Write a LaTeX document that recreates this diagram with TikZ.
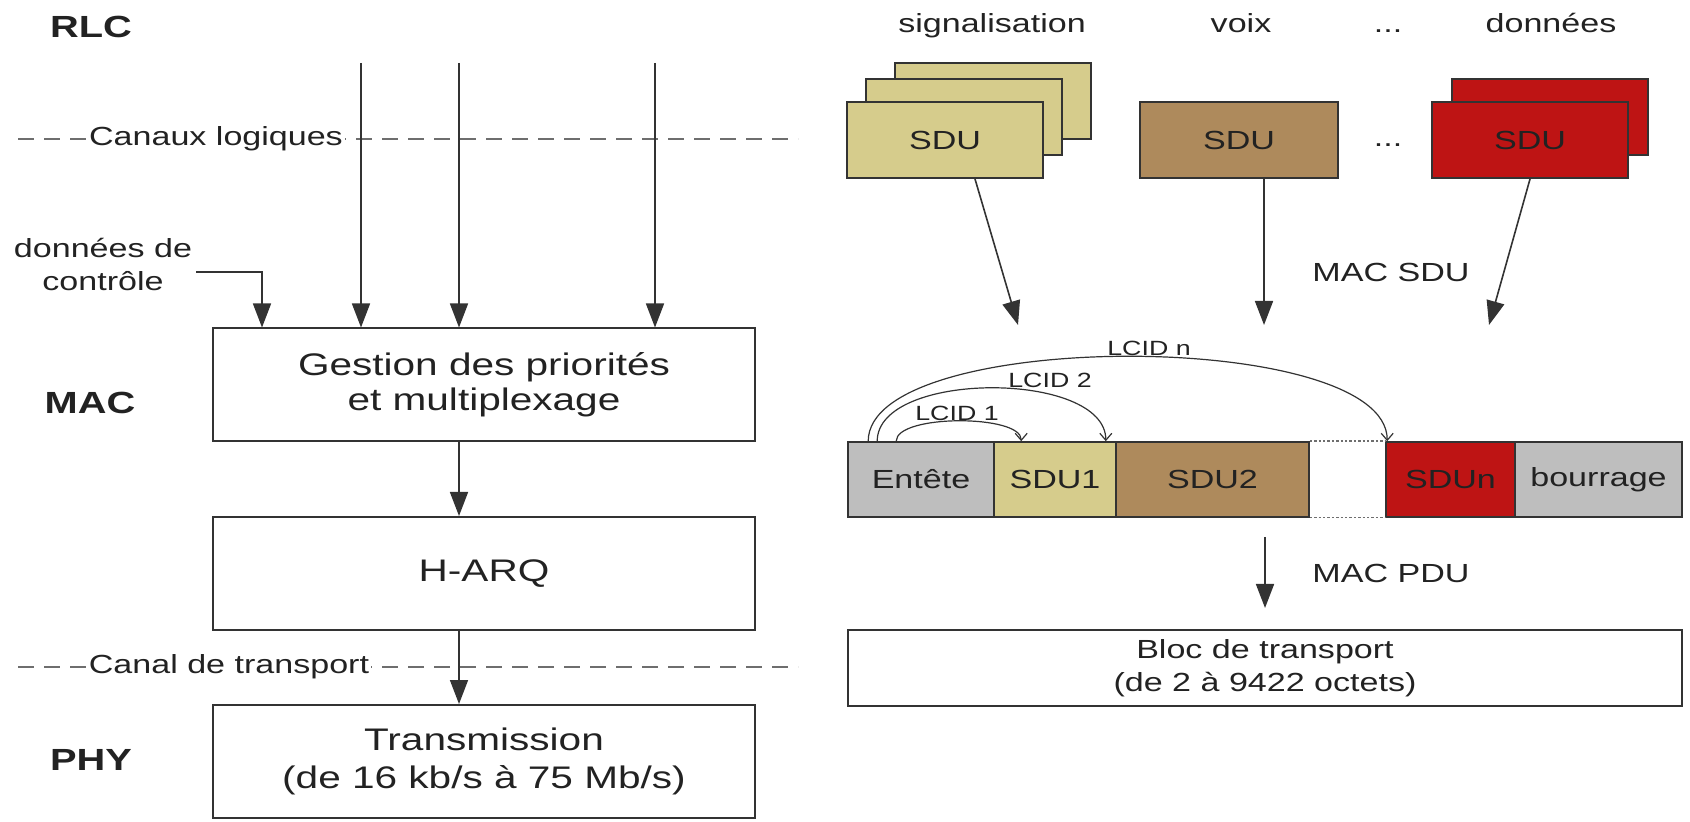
\documentclass[tikz,border=0pt]{standalone}
\usepackage{fontspec}
\setmainfont{Liberation Sans}[FakeStretch=1.3]
\usetikzlibrary{arrows.meta,calc}
\definecolor{linec}{HTML}{333333}
\definecolor{txtc}{HTML}{222222}
\definecolor{dashc}{HTML}{6E6E6E}
\definecolor{sduyel}{HTML}{D6CC8C}
\definecolor{sdubrn}{HTML}{AE8A5C}
\definecolor{sdured}{HTML}{BE1414}
\definecolor{sdugry}{HTML}{BEBEBE}
\newcommand{\myL}{\fontsize{15.6}{17.5}\selectfont}
\newcommand{\myLT}{\fontsize{15.6}{19}\selectfont}
\newcommand{\myM}{\fontsize{13.1}{16.5}\selectfont}
\newcommand{\myB}{\fontsize{15.3}{17}\selectfont\bfseries}
\newcommand{\myS}{\fontsize{10.3}{12}\selectfont}
\begin{document}
\begin{tikzpicture}[x=0.5pt,y=-0.5pt,
 every node/.style={text=txtc},
 box/.style={draw=linec, line width=1pt, minimum width=271pt, minimum height=56.5pt, align=center, font=\myL, inner sep=0pt},
 sdu/.style={draw=linec, line width=1pt, minimum width=98pt, minimum height=38pt, inner sep=0pt, font=\myM},
 seg/.style={draw=linec, line width=0.8pt, minimum height=37.5pt, inner sep=0pt, font=\myM},
 arr/.style={draw=linec, line width=0.8pt, -{Triangle[length=12pt,width=9pt]}},
 lcid/.style={draw=linec, line width=0.6pt, -{Straight Barb[length=3.5pt,width=6pt]}},
 layer/.style={font=\myB},
 lbl/.style={font=\myM},
 chan/.style={font=\myM, fill=white, inner sep=1pt},
 dashline/.style={draw=dashc, line width=0.8pt, dash pattern=on 8pt off 5pt},
 dotline/.style={draw=dashc, line width=0.7pt, dash pattern=on 1.2pt off 1pt},
]
\useasboundingbox (0,0) rectangle (1690,822);

% layer labels
\node[layer] (rlc) at (91,27) {RLC};
\node[layer] (mac) at (90,403) {MAC};
\node[layer] (phy) at (91,760) {PHY};

% dashed channel lines
\coordinate (d1a) at (18,139); \coordinate (d1b) at (798,139);
\draw[dashline] (d1a) -- (d1b);
\node[chan] (canlog) at (216,139) {Canaux logiques};
\coordinate (d2a) at (18,667); \coordinate (d2b) at (798,667);
\draw[dashline] (d2a) -- (d2b);
\node[chan] (cantr) at (229,667) {Canal de transport};

% left boxes
\node[box] (gest) at (484,385) {Gestion des priorités\\et multiplexage};
\node[box] (harq) at (484,573.5) {H-ARQ};
\node[box, font=\myLT] (trans) at (484,761.5) {Transmission\\(de 16 kb/s à 75 Mb/s)};

% logical channel arrows
\coordinate (s1) at (361,63);
\coordinate (s2) at (459,63);
\coordinate (s3) at (655,63);
\draw[arr] (s1) -- (s1 |- gest.north);
\draw[arr] (s2) -- (s2 |- gest.north);
\draw[arr] (s3) -- (s3 |- gest.north);

% control data
\node[lbl, align=center] (ctrl) at (103,264) {données de\\contrôle};
\coordinate (c0) at (196,272);
\coordinate (c1) at (262,0);
\draw[arr] (c0) -| (c1 |- gest.north);

% vertical chain
\draw[arr] (gest.south -| s2) -- (harq.north -| s2);
\draw[arr] (harq.south -| s2) -- (trans.north -| s2);

% top labels
\node[lbl, anchor=base] (sig) at (992,33) {signalisation};
\node[lbl, anchor=base] (voix) at (1241,33) {voix};
\node[lbl, anchor=base] (dots1) at (1388,33) {...};
\node[lbl, anchor=base] (donn) at (1551,33) {données};

% SDU stacks
\node[sdu, fill=sduyel] (y3) at (993,101) {};
\node[sdu, fill=sduyel] (y2) at (964,117) {};
\node[sdu, fill=sduyel] (y1) at (945,140) {SDU};
\node[sdu, fill=sdubrn, minimum width=99pt] (b1) at (1239,140) {SDU};
\node[lbl, anchor=base] (dots2) at (1388,147) {...};
\node[sdu, fill=sdured] (r2) at (1550,117) {};
\node[sdu, fill=sdured] (r1) at (1530,140) {SDU};

% MAC SDU arrows
\coordinate (ty) at (1018,325);
\coordinate (tb) at (1264,325);
\coordinate (tr) at (1489,325);
\draw[arr] ($(y1.south)+(30,0)$) -- (ty);
\draw[arr] ($(b1.south)+(25,0)$) -- (tb);
\draw[arr] (r1.south) -- (tr);
\node[lbl] (macsdu) at (1391,272) {MAC SDU};

% MAC PDU bar
\node[seg, fill=sdugry, minimum width=73pt] (ent) at (921,479.5) {Entête};
\node[seg, fill=sduyel, minimum width=61pt] (sdu1) at (1055,479.5) {SDU1};
\node[seg, fill=sdubrn, minimum width=96.5pt] (sdu2) at (1212.5,479.5) {SDU2};
\node[seg, fill=sdured, minimum width=64.5pt] (sdun) at (1450.5,479.5) {SDUn};
\node[seg, fill=sdugry, minimum width=83.5pt] (bour) at (1598.5,479.5) {bourrage};
\draw[dotline] (sdu2.north east) -- (sdun.north west);
\draw[dotline] (sdu2.south east) -- (sdun.south west);

% LCID arcs
\coordinate (l1a) at ($(ent.north west)+(49,0)$);
\coordinate (l1b) at ($(sdu1.north west)+(28,0)$);
\coordinate (l2a) at ($(ent.north west)+(30,0)$);
\coordinate (l2b) at ($(sdu1.north east)+(-11,0)$);
\coordinate (lna) at ($(ent.north west)+(21,0)$);
\coordinate (lnb) at ($(sdun.north west)+(2,0)$);
\draw[lcid] (l1a) .. controls ($(l1a)+(0,-27)$) and ($(l1b)+(0,-27)$) .. (l1b);
\draw[lcid] (l2a) .. controls ($(l2a)+(0,-71)$) and ($(l2b)+(0,-71)$) .. (l2b);
\draw[lcid] (lna) .. controls ($(lna)+(0,-113)$) and ($(lnb)+(0,-113)$) .. (lnb);
\node[font=\myS] (lc1) at (957,413) {LCID 1};
\node[font=\myS] (lc2) at (1050,380) {LCID 2};
\node[font=\myS] (lcn) at (1149,348) {LCID n};

% MAC PDU arrow and transport block
\coordinate (pa) at (1265,537);
\coordinate (pb) at (1265,608);
\draw[arr] (pa) -- (pb);
\node[lbl] (macpdu) at (1391,573) {MAC PDU};
\node[draw=linec, line width=1pt, minimum width=417pt, minimum height=38pt, inner sep=0pt, align=center, font=\myM] (bloc) at (1265,668) {Bloc de transport\\(de 2 à 9422 octets)};
\end{tikzpicture}
\end{document}
